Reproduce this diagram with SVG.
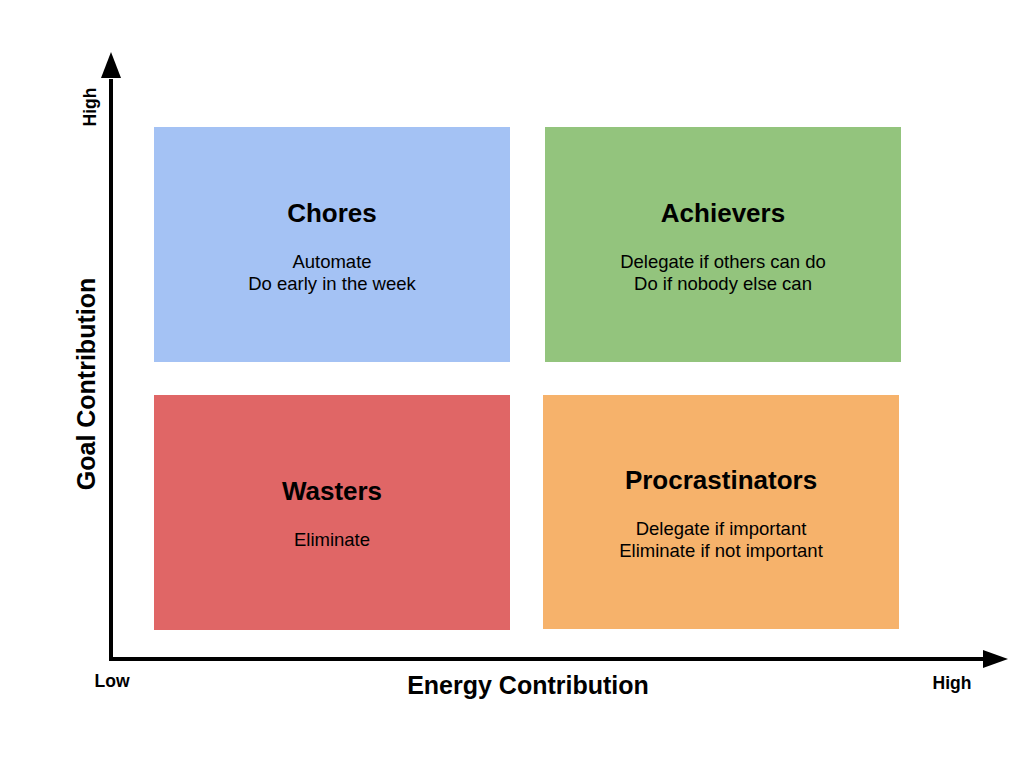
<svg xmlns="http://www.w3.org/2000/svg" width="1024" height="768" viewBox="0 0 1024 768">
  <style>
    .title { font-family: "Liberation Sans", Arial, sans-serif; font-weight: bold; font-size: 26px; fill: #000; text-anchor: middle; }
    .body { font-family: "Liberation Sans", Arial, sans-serif; font-size: 18.5px; fill: #000; text-anchor: middle; }
    .axis-label { font-family: "Liberation Sans", Arial, sans-serif; font-weight: bold; font-size: 25px; fill: #000; text-anchor: middle; }
    .tick { font-family: "Liberation Sans", Arial, sans-serif; font-weight: bold; font-size: 17.5px; fill: #000; text-anchor: middle; }
    .axis { stroke: #000; stroke-width: 4; fill: none; }
  </style>
  <rect width="1024" height="768" fill="#fff"/>

  <!-- axes -->
  <g id="connectors">
    <polyline class="axis" points="111,79 111,659 985,659"/>
    <polygon points="111,52 101,78 121,78" fill="#000"/>
    <polygon points="1008,659 983,650 983,668" fill="#000"/>
  </g>

  <!-- axis labels -->
  <g id="axis-labels">
    <text class="axis-label" transform="translate(95,384) rotate(-90)">Goal Contribution</text>
    <text class="axis-label" x="528" y="694">Energy Contribution</text>
    <text class="tick" x="112" y="687">Low</text>
    <text class="tick" x="952" y="689">High</text>
    <text class="tick" transform="translate(96,107) rotate(-90)">High</text>
  </g>

  <g id="chores">
    <rect x="154" y="127" width="356" height="235" fill="#a4c2f4"/>
    <text class="title" x="332" y="222">Chores</text>
    <text class="body" x="332" y="268">Automate</text>
    <text class="body" x="332" y="290">Do early in the week</text>
  </g>

  <g id="achievers">
    <rect x="545" y="127" width="356" height="235" fill="#93c47d"/>
    <text class="title" x="723" y="222">Achievers</text>
    <text class="body" x="723" y="268">Delegate if others can do</text>
    <text class="body" x="723" y="290">Do if nobody else can</text>
  </g>

  <g id="wasters">
    <rect x="154" y="395" width="356" height="235" fill="#e06666"/>
    <text class="title" x="332" y="500">Wasters</text>
    <text class="body" x="332" y="546">Eliminate</text>
  </g>

  <g id="procrastinators">
    <rect x="543" y="395" width="356" height="234" fill="#f6b26b"/>
    <text class="title" x="721" y="489">Procrastinators</text>
    <text class="body" x="721" y="535">Delegate if important</text>
    <text class="body" x="721" y="557">Eliminate if not important</text>
  </g>
</svg>
